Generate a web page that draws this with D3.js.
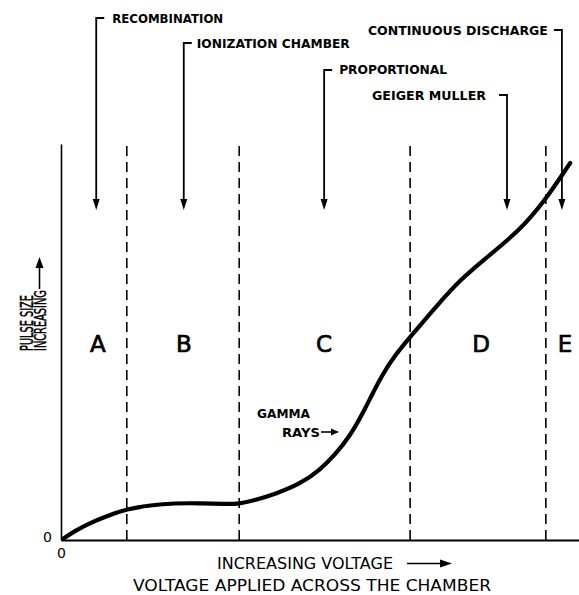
<!DOCTYPE html>
<html><head><meta charset="utf-8">
<script src="https://cdn.jsdelivr.net/npm/d3@7"></script>
<style>body{margin:0;background:#fff}svg{display:block}</style>
</head><body><svg id="c" width="579" height="595"></svg>
<script>
// Pulse size vs applied voltage (arbitrary units 0-100)
const voltage = [0.4, 2.7, 5.6, 8.9, 12.7, 17.2, 22.0, 26.8, 31.7, 34.4, 37.5, 41.3, 46.1, 50.0, 52.9, 55.8, 58.1, 60.0, 62.0, 64.5, 67.4, 72.2, 77.0, 82.8, 88.6, 93.1, 98.3];
const pulseSize = [0.3, 2.3, 4.3, 6.1, 7.8, 8.8, 9.3, 9.3, 9.1, 9.1, 10.1, 11.6, 14.1, 17.7, 21.5, 26.3, 31.6, 36.6, 41.7, 46.7, 51.3, 58.6, 65.7, 72.0, 78.3, 85.1, 95.2];
const regionBounds = [12.7, 34.4, 67.4, 93.6];
const regionLetters = ["A", "B", "C", "D", "E"];
const regionLetterX = [7.1, 23.7, 50.8, 81.1, 97.3];
const modeNames = ["RECOMBINATION", "IONIZATION CHAMBER", "PROPORTIONAL", "GEIGER MULLER", "CONTINUOUS DISCHARGE"];
const modeX = [6.8, 23.7, 50.8, 86.1, 96.7];
const modeSide = ["right", "right", "right", "left", "left"];
const axisZero = [0];

const svg = d3.select("#c");
const x = d3.scaleLinear().domain([0, 100]).range([61, 579]);
const y = d3.scaleLinear().domain([0, 100]).range([540, 144]);
const font = "'DejaVu Sans', sans-serif";

// axes
const xAxis = svg.append("g").attr("transform", "translate(0,540)")
  .call(d3.axisBottom(x).tickValues(axisZero).tickSize(0).tickSizeOuter(0).tickPadding(8).tickFormat(d3.format("d")));
xAxis.select(".domain").attr("stroke", "#000").attr("stroke-width", 2.2);
xAxis.selectAll("text").attr("font-family", font).attr("font-size", 14).attr("fill", "#000");
const yAxis = svg.append("g").attr("transform", "translate(61,0)")
  .call(d3.axisLeft(y).tickValues(axisZero).tickSize(0).tickSizeOuter(0).tickPadding(9).tickFormat(d3.format("d")));
yAxis.select(".domain").attr("stroke", "#000").attr("stroke-width", 1.6);
yAxis.selectAll("text").attr("font-family", font).attr("font-size", 14).attr("fill", "#000").attr("dy", "0.1em");

// region boundaries
svg.append("g").selectAll("line").data(regionBounds).join("line")
  .attr("x1", d => x(d)).attr("x2", d => x(d))
  .attr("y1", y(0)).attr("y2", y(100) + 1)
  .attr("stroke", "#000").attr("stroke-width", 1.6).attr("stroke-dasharray", "10,6");

// region letters
svg.append("g").selectAll("text").data(regionLetters).join("text")
  .attr("x", (d, i) => x(regionLetterX[i])).attr("y", 352)
  .attr("text-anchor", "middle").attr("font-family", font).attr("font-size", 23)
  .attr("fill", "#000").attr("stroke", "#000").attr("stroke-width", 0.7).text(d => d);

// curve
svg.append("path")
  .datum(voltage.map((v, i) => [v, pulseSize[i]]))
  .attr("d", d3.line().x(d => x(d[0])).y(d => y(d[1])).curve(d3.curveBasis))
  .attr("fill", "none").attr("stroke", "#000").attr("stroke-width", 4.2).attr("stroke-linecap", "round");

// mode annotations
const bracketY = [18, 43, 70, 95, 30];
const labelBase = [23, 48, 74, 100, 35];
const labelGap = [16, 13, 15, 21, 14];
const labelLen = [111, 153, 108, 114, 180];
const tipY = 210;
const ann = svg.append("g");
modeNames.forEach((name, i) => {
  const ax = x(modeX[i]);
  const dir = modeSide[i] === "right" ? 1 : -1;
  ann.append("path")
    .attr("d", `M${ax + dir * 8},${bracketY[i]}H${ax}V${tipY - 9}`)
    .attr("fill", "none").attr("stroke", "#000").attr("stroke-width", 1.8);
  ann.append("path")
    .attr("d", `M${ax - 3.5},${tipY - 11}L${ax + 3.5},${tipY - 11}L${ax},${tipY}Z`)
    .attr("fill", "#000");
  ann.append("text")
    .attr("x", ax + dir * labelGap[i]).attr("y", labelBase[i])
    .attr("text-anchor", dir === 1 ? "start" : "end")
    .attr("font-family", font).attr("font-size", 12).attr("font-weight", "bold")
    .attr("textLength", labelLen[i]).attr("lengthAdjust", "spacingAndGlyphs")
    .attr("fill", "#000").text(name);
});

// gamma rays annotation
svg.append("text").attr("x", 257).attr("y", 418).attr("font-family", font).attr("font-size", 13)
  .attr("font-weight", "bold").attr("textLength", 53).attr("lengthAdjust", "spacingAndGlyphs").text("GAMMA");
svg.append("text").attr("x", 282).attr("y", 437).attr("font-family", font).attr("font-size", 13)
  .attr("font-weight", "bold").attr("textLength", 38).attr("lengthAdjust", "spacingAndGlyphs").text("RAYS");
svg.append("path").attr("d", "M321,432H332").attr("stroke", "#000").attr("stroke-width", 1.6);
svg.append("path").attr("d", "M331,428.5L339,432L331,435.5Z").attr("fill", "#000");

// axis titles
svg.append("text").attr("x", 217).attr("y", 569).attr("font-family", font).attr("font-size", 15)
  .attr("textLength", 176).attr("lengthAdjust", "spacingAndGlyphs").text("INCREASING VOLTAGE");
svg.append("path").attr("d", "M407,563.5H442").attr("stroke", "#000").attr("stroke-width", 1.6);
svg.append("path").attr("d", "M440,559.5L452,563.5L440,567.5Z").attr("fill", "#000");
svg.append("text").attr("x", 133).attr("y", 591).attr("font-family", font).attr("font-size", 15)
  .attr("textLength", 358).attr("lengthAdjust", "spacingAndGlyphs").text("VOLTAGE APPLIED ACROSS THE CHAMBER");

// rotated y title, condensed along the text direction
function condensed(tx, ty, size, len, str) {
  const t = svg.append("text").attr("font-family", font).attr("font-size", size)
    .attr("stroke", "#000").attr("stroke-width", 0.5).text(str);
  const w = t.node().getComputedTextLength();
  t.attr("transform", `translate(${tx},${ty}) rotate(-90) scale(${len / w},1)`);
}
condensed(33, 351, 17, 56, "PULSE SIZE");
condensed(46, 351, 16, 61, "INCREASING");
svg.append("path").attr("d", "M39.5,289V266").attr("stroke", "#000").attr("stroke-width", 1.6);
svg.append("path").attr("d", "M35.5,268L39.5,257L43.5,268Z").attr("fill", "#000");
</script></body></html>
